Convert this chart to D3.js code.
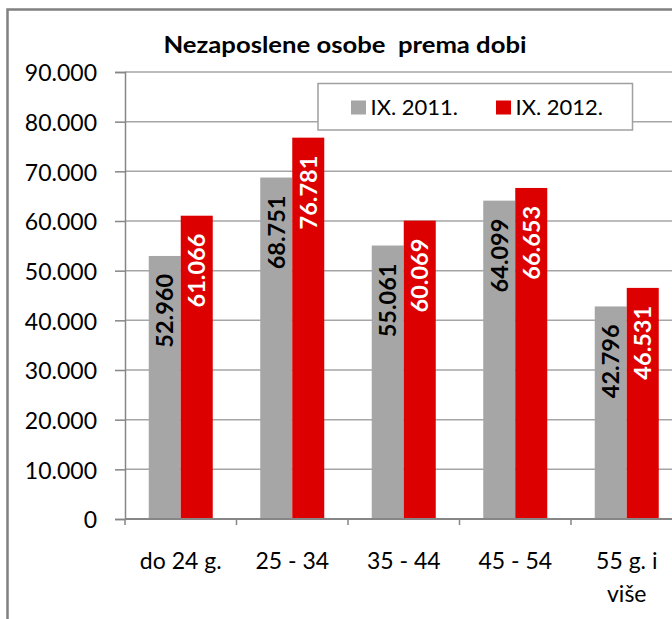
<!DOCTYPE html>
<html>
<head>
<meta charset="utf-8">
<script src="https://cdn.jsdelivr.net/npm/d3@7"></script>
<style>
  html, body { margin: 0; padding: 0; background: #fff; }
  svg { display: block; }
  text { font-family: Lato, "Open Sans", sans-serif; }
</style>
</head>
<body>
<svg id="chart" width="672" height="619"></svg>
<script>
const title = "Nezaposlene osobe  prema dobi";
const categories = ["do 24 g.", "25 - 34", "35 - 44", "45 - 54", "55 g. i više"];
const seriesNames = ["IX. 2011.", "IX. 2012."];
const values2011 = [52960, 68751, 55061, 64099, 42796];
const values2012 = [61066, 76781, 60069, 66653, 46531];
const yTicks = [0, 10000, 20000, 30000, 40000, 50000, 60000, 70000, 80000, 90000];
const colors = ["#a6a6a6", "#dd0000"];
const labelColors = ["#000000", "#ffffff"];

const series = [values2011, values2012];
const svg = d3.select("#chart");
const fmt = v => v === 0 ? "0" : d3.format(",")(v).replace(/,/g, ".");

// outer chart border
svg.append("rect").attr("x", 7.5).attr("y", 9.5).attr("width", 700).attr("height", 700)
  .attr("fill", "#fff").attr("stroke", "#808080").attr("stroke-width", 2.5);

const plotLeft = 125, plotTop = 72, plotBottom = 519, band = 111.5;
const x0 = d3.scaleBand().domain(categories).range([plotLeft, plotLeft + band * categories.length]).padding(0);
const x1 = d3.scaleBand().domain(seriesNames).range([0, x0.bandwidth()]).paddingInner(0).paddingOuter(0.742);
const y = d3.scaleLinear().domain([0, 90000]).range([plotBottom, plotTop]);

// gridlines
svg.append("g").selectAll("line").data(yTicks.filter(t => t > 0)).join("line")
  .attr("x1", plotLeft).attr("x2", 700)
  .attr("y1", d => y(d)).attr("y2", d => y(d))
  .attr("stroke", "#a6a6a6").attr("stroke-width", 1.5);

// y axis
const yAxis = svg.append("g").attr("transform", `translate(${plotLeft},0)`)
  .call(d3.axisLeft(y).tickValues(yTicks).tickFormat(fmt).tickSize(10).tickPadding(18));
yAxis.select(".domain").attr("stroke", "#868686").attr("stroke-width", 1.5);
yAxis.selectAll(".tick line").attr("stroke", "#868686").attr("stroke-width", 1.5);
yAxis.selectAll(".tick text").attr("font-size", 23).attr("fill", "#000").attr("dy", "0.38em")
  .style("font-family", "Lato, sans-serif");

// bars
const groups = svg.append("g").selectAll("g").data(categories).join("g")
  .attr("transform", d => `translate(${x0(d)},0)`);
groups.selectAll("rect").data((c, i) => series.map((s, k) => ({ k, v: s[i] }))).join("rect")
  .attr("x", d => x1(seriesNames[d.k])).attr("width", x1.bandwidth())
  .attr("y", d => y(d.v)).attr("height", d => y(0) - y(d.v))
  .attr("fill", d => colors[d.k]);

// data labels
groups.selectAll("text").data((c, i) => series.map((s, k) => ({ k, v: s[i] }))).join("text")
  .attr("transform", d => `translate(${x1(seriesNames[d.k]) + x1.bandwidth() / 2},${y(d.v) + 18}) rotate(-90)`)
  .attr("text-anchor", "end").attr("dy", "0.36em")
  .attr("font-size", 23.5).attr("font-weight", "bold")
  .attr("fill", d => labelColors[d.k])
  .text(d => fmt(d.v));

// x axis
const xAxis = svg.append("g").attr("transform", `translate(0,${plotBottom})`);
xAxis.append("line").attr("x1", plotLeft).attr("x2", 700).attr("y1", 0).attr("y2", 0)
  .attr("stroke", "#868686").attr("stroke-width", 2);
xAxis.selectAll("line.tk").data(categories).join("line").attr("class", "tk")
  .attr("x1", d => x0(d)).attr("x2", d => x0(d)).attr("y1", 0).attr("y2", 6)
  .attr("stroke", "#868686").attr("stroke-width", 1.5);
const catText = xAxis.selectAll("text").data(categories).join("text")
  .attr("x", d => x0(d) + x0.bandwidth() / 2).attr("y", 50)
  .attr("text-anchor", "middle").attr("font-size", 23).attr("fill", "#000");
catText.each(function(d) {
  const parts = d === "55 g. i više" ? ["55 g. i", "više"] : [d];
  const t = d3.select(this);
  parts.forEach((p, j) => t.append("tspan").attr("x", x0(d) + x0.bandwidth() / 2).attr("dy", j === 0 ? 0 : 33).text(p));
});

// title
const tt = svg.append("text").attr("x", 345).attr("y", 53).attr("text-anchor", "middle")
  .attr("font-size", 22.5).attr("font-weight", "bold").attr("fill", "#000")
  .style("white-space", "pre").text(title);
const tw = tt.node().getComputedTextLength();
if (Math.abs(tw - 363) > 4) tt.attr("textLength", 363).attr("lengthAdjust", "spacingAndGlyphs");

// legend
const lg = svg.append("g");
lg.append("rect").attr("x", 318).attr("y", 83.5).attr("width", 314.5).attr("height", 46.5)
  .attr("fill", "#fff").attr("stroke", "#a0a0a0").attr("stroke-width", 1.5);
const legX = [351, 496];
seriesNames.forEach((s, k) => {
  lg.append("rect").attr("x", legX[k]).attr("y", 100.5).attr("width", 15).attr("height", 14).attr("fill", colors[k]);
  lg.append("text").attr("x", legX[k] + 19.5).attr("y", 114.5).attr("font-size", 22).attr("fill", "#000").text(s);
});
</script>
</body>
</html>
